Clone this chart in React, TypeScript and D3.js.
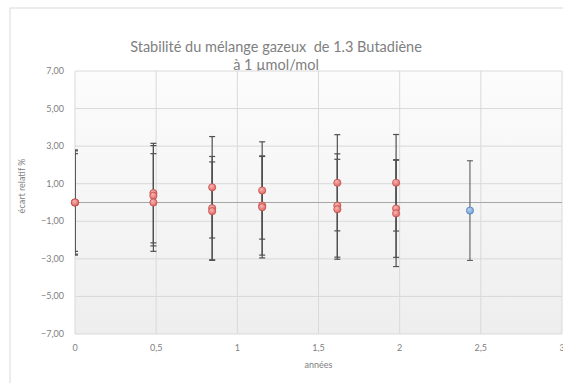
import React from "react";
import * as d3 from "d3";

// années de mesure
const annees = [0, 0.483, 0.845, 1.153, 1.616, 1.978];

// écart relatif % (trois séries) + incertitudes
const serie1 = [0, 0.5, 0.81, 0.64, 1.05, 1.05];
const err1 = [2.75, 2.65, 2.7, 2.59, 2.56, 2.57];
const serie2 = [0, 0.36, -0.3, -0.16, -0.16, -0.32];
const err2 = [2.6, 2.67, 2.75, 2.64, 2.75, 2.6];
const serie3 = [0, 0, -0.46, -0.25, -0.36, -0.58];
const err3 = [2.8, 2.6, 2.62, 2.7, 2.66, 2.83];

// dernier point (bleu)
const anneeBleu = [2.433];
const serieBleu = [-0.43];
const errBleu = [2.65];

const xTicks = [0, 0.5, 1, 1.5, 2, 2.5, 3];
const yTicks = [7, 5, 3, 1, -1, -3, -5, -7];

const W = 563;
const H = 383;
const left = 75;
const right = 562;
const top = 71;
const bottom = 334;

const FONT = "Lato, 'Open Sans', sans-serif";

export default function App() {
  const x = d3.scaleLinear().domain([0, 3]).range([left, right]);
  const y = d3.scaleLinear().domain([-7, 7]).range([bottom, top]);
  const fmtY = (v: number) => d3.format(".2f")(v).replace(".", ",");
  const fmtX = (v: number) => String(v).replace(".", ",");

  const rouges = [
    { v: serie1, e: err1 },
    { v: serie2, e: err2 },
    { v: serie3, e: err3 },
  ];

  const errorBar = (cx: number, v: number, e: number, key: string, w: number) => (
    <g key={key} stroke="#505050" strokeWidth={w}>
      <line x1={cx} x2={cx} y1={y(v + e)} y2={y(v - e)} />
      <line x1={cx - 3} x2={cx + 3} y1={y(v + e)} y2={y(v + e)} />
      <line x1={cx - 3} x2={cx + 3} y1={y(v - e)} y2={y(v - e)} />
    </g>
  );

  return (
    <svg width={W} height={H} style={{ position: "absolute", left: 0, top: 0, background: "#fff" }}>
      <defs>
        <linearGradient id="fond" x1="0" y1="0" x2="0" y2="1">
          <stop offset="0" stopColor="#fcfcfc" />
          <stop offset="1" stopColor="#eeeeee" />
        </linearGradient>
        <radialGradient id="rouge" cx="0.4" cy="0.35" r="0.7">
          <stop offset="0" stopColor="#f7b5b3" />
          <stop offset="1" stopColor="#e0605c" />
        </radialGradient>
        <radialGradient id="bleu" cx="0.4" cy="0.35" r="0.7">
          <stop offset="0" stopColor="#b8d0f0" />
          <stop offset="1" stopColor="#6f9bd8" />
        </radialGradient>
        <clipPath id="clip">
          <rect x={left} y={top - 5} width={right - left} height={bottom - top + 10} />
        </clipPath>
      </defs>

      <rect x={10} y={8} width={W} height={H} fill="#fff" stroke="#d9d9d9" />

      <text x={276} y={52} textAnchor="middle" fontFamily={FONT} fontSize={14.5} fill="#808080" style={{ whiteSpace: "pre" }}>
        {"Stabilité du mélange gazeux  de 1.3 Butadiène"}
      </text>
      <text x={276} y={70} textAnchor="middle" fontFamily={FONT} fontSize={14.5} fill="#808080">
        à 1 µmol/mol
      </text>

      <rect x={left} y={top} width={right - left} height={bottom - top} fill="url(#fond)" />

      {yTicks.map((t) => (
        <g key={"y" + t}>
          <line x1={left} x2={right} y1={y(t)} y2={y(t)} stroke="#d9d9d9" strokeWidth={1} />
          <text x={left - 11} y={y(t) + 3} textAnchor="end" fontFamily={FONT} fontSize={9} fill="#808080">
            {fmtY(t)}
          </text>
        </g>
      ))}
      {xTicks.map((t) => (
        <g key={"x" + t}>
          <line x1={x(t)} x2={x(t)} y1={top} y2={bottom} stroke="#d9d9d9" strokeWidth={1} />
          <text x={x(t)} y={bottom + 17} textAnchor="middle" fontFamily={FONT} fontSize={9} fill="#808080">
            {fmtX(t)}
          </text>
        </g>
      ))}
      <line x1={left} x2={right} y1={y(0)} y2={y(0)} stroke="#a6a6a6" strokeWidth={1} />

      <text x={x(1.5)} y={368} textAnchor="middle" fontFamily={FONT} fontSize={9} fill="#808080">
        années
      </text>
      <text
        transform={`translate(25,186) rotate(-90)`}
        textAnchor="middle"
        fontFamily={FONT}
        fontSize={9}
        fill="#808080"
      >
        écart relatif %
      </text>

      <g clipPath="url(#clip)">
        {rouges.map((s, si) =>
          annees.map((a, i) => errorBar(x(a), s.v[i], s.e[i], `e${si}-${i}`, 1.2))
        )}
        {anneeBleu.map((a, i) => errorBar(x(a), serieBleu[i], errBleu[i], `eb${i}`, 1))}
      </g>

      {rouges.map((s, si) =>
        annees.map((a, i) => (
          <circle key={`p${si}-${i}`} cx={x(a)} cy={y(s.v[i])} r={3.6} fill="url(#rouge)" stroke="#c0504d" strokeWidth={0.8} />
        ))
      )}
      {anneeBleu.map((a, i) => (
        <circle key={`pb${i}`} cx={x(a)} cy={y(serieBleu[i])} r={3.6} fill="url(#bleu)" stroke="#4f81bd" strokeWidth={0.8} />
      ))}
    </svg>
  );
}
